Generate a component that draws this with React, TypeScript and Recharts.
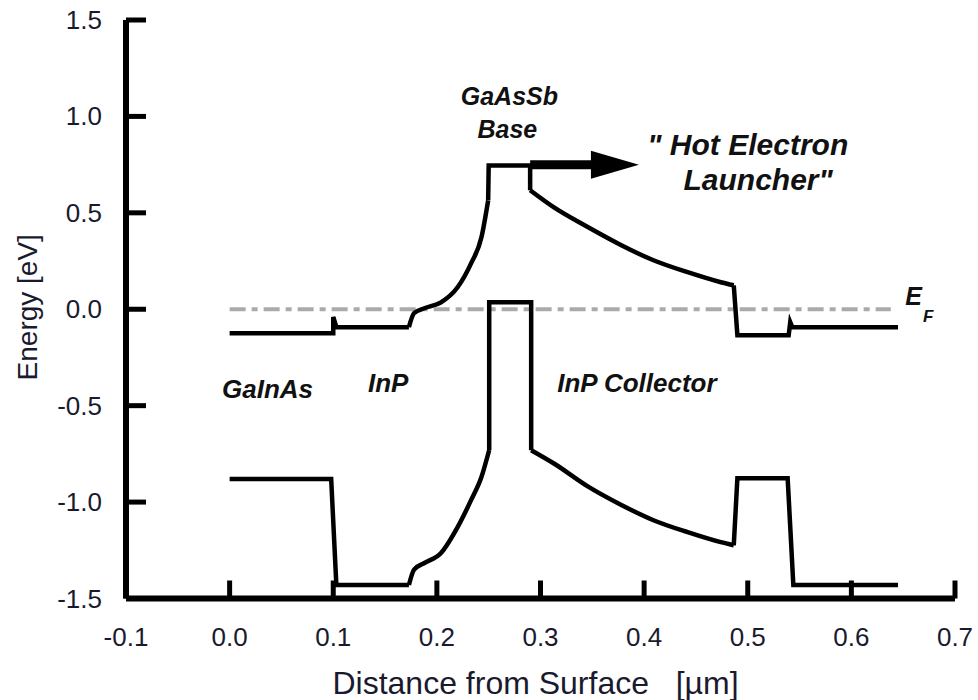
import { ComposedChart, Line, XAxis, YAxis, ReferenceDot } from 'recharts';

// conduction band pieces (x in µm, energy in eV)
const cbLeft = [
  { x: 0, y: -0.125 },
  { x: 0.1, y: -0.125 },
  { x: 0.1, y: -0.04 },
  { x: 0.103, y: -0.093 },
  { x: 0.173, y: -0.093 },
];
const cbRise = [
  { x: 0.173, y: -0.093 },
  { x: 0.178, y: -0.02 },
  { x: 0.188, y: 0.005 },
  { x: 0.204, y: 0.036 },
  { x: 0.22, y: 0.114 },
  { x: 0.233, y: 0.238 },
  { x: 0.243, y: 0.373 },
  { x: 0.2495, y: 0.565 },
];
const cbBase = [
  { x: 0.2495, y: 0.565 },
  { x: 0.25, y: 0.746 },
  { x: 0.29, y: 0.746 },
  { x: 0.29, y: 0.617 },
];
const cbCollector = [
  { x: 0.29, y: 0.617 },
  { x: 0.313, y: 0.528 },
  { x: 0.346, y: 0.425 },
  { x: 0.378, y: 0.332 },
  { x: 0.409, y: 0.254 },
  { x: 0.442, y: 0.192 },
  { x: 0.474, y: 0.14 },
  { x: 0.4865, y: 0.124 },
];
const cbRight = [
  { x: 0.4865, y: 0.124 },
  { x: 0.49, y: -0.135 },
  { x: 0.5395, y: -0.135 },
  { x: 0.541, y: -0.067 },
  { x: 0.543, y: -0.093 },
  { x: 0.645, y: -0.093 },
];

// valence band pieces
const vbLeft = [
  { x: 0, y: -0.88 },
  { x: 0.098, y: -0.88 },
  { x: 0.103, y: -1.43 },
  { x: 0.173, y: -1.43 },
];
const vbRise = [
  { x: 0.173, y: -1.43 },
  { x: 0.178, y: -1.35 },
  { x: 0.188, y: -1.316 },
  { x: 0.204, y: -1.264 },
  { x: 0.22, y: -1.13 },
  { x: 0.233, y: -0.99 },
  { x: 0.243, y: -0.87 },
  { x: 0.2505, y: -0.73 },
];
const vbBase = [
  { x: 0.2505, y: -0.73 },
  { x: 0.2505, y: 0.036 },
  { x: 0.291, y: 0.036 },
  { x: 0.291, y: -0.731 },
];
const vbCollector = [
  { x: 0.291, y: -0.731 },
  { x: 0.313, y: -0.8 },
  { x: 0.346, y: -0.92 },
  { x: 0.378, y: -1.015 },
  { x: 0.409, y: -1.094 },
  { x: 0.442, y: -1.156 },
  { x: 0.474, y: -1.208 },
  { x: 0.4865, y: -1.224 },
];
const vbRight = [
  { x: 0.4865, y: -1.224 },
  { x: 0.49, y: -0.876 },
  { x: 0.5385, y: -0.876 },
  { x: 0.544, y: -1.43 },
  { x: 0.645, y: -1.43 },
];

const fermiLevel = [
  { x: 0, y: 0 },
  { x: 0.638, y: 0 },
];
const arrowShaft = [
  { x: 0.29, y: 0.75 },
  { x: 0.352, y: 0.75 },
];
const arrowTip = { x: 0.395, y: 0.75 };

const xTicks = [-0.1, 0, 0.1, 0.2, 0.3, 0.4, 0.5, 0.6, 0.7];
const yTicks = [-1.5, -1.0, -0.5, 0, 0.5, 1.0, 1.5];

const notes = [
  { text: 'GaInAs', x: 0.0366, y: -0.461, size: 26 },
  { text: 'InP', x: 0.153, y: -0.43, size: 26 },
  { text: 'InP Collector', x: 0.393, y: -0.43, size: 26 },
  { text: 'GaAsSb', x: 0.27, y: 1.057, size: 25 },
  { text: 'Base', x: 0.268, y: 0.886, size: 25 },
  { text: '" Hot Electron', x: 0.5, y: 0.8, size: 30 },
  { text: 'Launcher"', x: 0.51, y: 0.617, size: 30 },
];

const FONT = '"Liberation Sans", Arial, sans-serif';

const bandSegments = [
  { id: 'cbLeft', data: cbLeft, curve: 'linear' },
  { id: 'cbRise', data: cbRise, curve: 'monotone' },
  { id: 'cbBase', data: cbBase, curve: 'linear' },
  { id: 'cbCollector', data: cbCollector, curve: 'monotone' },
  { id: 'cbRight', data: cbRight, curve: 'linear' },
  { id: 'vbLeft', data: vbLeft, curve: 'linear' },
  { id: 'vbRise', data: vbRise, curve: 'monotone' },
  { id: 'vbBase', data: vbBase, curve: 'linear' },
  { id: 'vbCollector', data: vbCollector, curve: 'monotone' },
  { id: 'vbRight', data: vbRight, curve: 'linear' },
] as const;

function XTick({ x, y, payload }: any) {
  return (
    <g>
      <line x1={x} y1={y} x2={x} y2={y - 18} stroke="#000" strokeWidth={5} />
      <text x={x} y={y + 38} textAnchor="middle" dominantBaseline="central" fontSize={26} fill="#1a1a2e" fontFamily={FONT}>
        {Number(payload.value).toFixed(1)}
      </text>
    </g>
  );
}

function YTick({ x, y, payload }: any) {
  return (
    <g>
      <line x1={x} y1={y} x2={x + 20} y2={y} stroke="#000" strokeWidth={5} />
      <text x={x - 24} y={y} textAnchor="end" dominantBaseline="central" fontSize={26} fill="#1a1a2e" fontFamily={FONT}>
        {Number(payload.value).toFixed(1)}
      </text>
    </g>
  );
}

export default function App() {
  return (
    <div style={{ position: 'absolute', left: 0, top: 0, background: '#fff' }}>
      <ComposedChart width={978} height={700} margin={{ top: 20, right: 23, bottom: 71.5, left: 66 }}>
        <XAxis
          dataKey="x"
          type="number"
          domain={[-0.1, 0.7]}
          ticks={xTicks}
          height={30}
          tickSize={0}
          tickMargin={0}
          tickLine={false}
          axisLine={{ stroke: '#000', strokeWidth: 6 }}
          tick={<XTick />}
          interval={0}
          label={{
            content: ({ viewBox }: any) => (
              <text
                x={viewBox.x + viewBox.width / 2 - 5}
                y={viewBox.y + 84}
                textAnchor="middle"
                dominantBaseline="central"
                fontSize={32}
                fill="#1a1a2e"
                fontFamily={FONT}
              >
                Distance from Surface{'\u00a0\u00a0\u00a0'}[µm]
              </text>
            ),
          }}
        />
        <YAxis
          dataKey="y"
          type="number"
          domain={[-1.5, 1.5]}
          ticks={yTicks}
          width={60}
          tickSize={0}
          tickMargin={0}
          tickLine={false}
          axisLine={{ stroke: '#000', strokeWidth: 6 }}
          tick={<YTick />}
          interval={0}
          label={{
            content: ({ viewBox }: any) => {
              const cx = viewBox.x + viewBox.width - 99;
              const cy = viewBox.y + viewBox.height / 2 - 2;
              return (
                <text
                  x={cx}
                  y={cy}
                  transform={`rotate(-90 ${cx} ${cy})`}
                  textAnchor="middle"
                  dominantBaseline="central"
                  fontSize={28}
                  fill="#1a1a2e"
                  fontFamily={FONT}
                >
                  Energy [eV]
                </text>
              );
            },
          }}
        />

        <Line
          data={fermiLevel}
          dataKey="y"
          type="linear"
          stroke="#aaaaaa"
          strokeWidth={4}
          strokeDasharray="16 6 6 6"
          dot={false}
          activeDot={false}
          isAnimationActive={false}
        />

        {bandSegments.map((s) => (
          <Line
            key={s.id}
            data={s.data as any}
            dataKey="y"
            type={s.curve}
            stroke="#000"
            strokeWidth={4.5}
            strokeLinejoin="miter"
            dot={false}
            activeDot={false}
            isAnimationActive={false}
          />
        ))}

        <Line
          data={arrowShaft}
          dataKey="y"
          type="linear"
          stroke="#000"
          strokeWidth={9}
          dot={false}
          activeDot={false}
          isAnimationActive={false}
        />
        <ReferenceDot
          x={arrowTip.x}
          y={arrowTip.y}
          r={0}
          shape={({ cx, cy }: any) => (
            <path d={`M${cx},${cy} L${cx - 48},${cy - 14} L${cx - 48},${cy + 14} Z`} fill="#000" />
          )}
        />

        {notes.map((n) => (
          <ReferenceDot
            key={n.text}
            x={n.x}
            y={n.y}
            r={0}
            shape={({ cx, cy }: any) => (
              <text
                x={cx}
                y={cy}
                textAnchor="middle"
                fontSize={n.size}
                fontWeight="bold"
                fontStyle="italic"
                fill="#111"
                fontFamily={FONT}
              >
                {n.text}
              </text>
            )}
          />
        ))}

        <ReferenceDot
          x={0.652}
          y={0.02}
          r={0}
          shape={({ cx, cy }: any) => (
            <text x={cx} y={cy} fontWeight="bold" fontStyle="italic" fill="#111" fontFamily={FONT} fontSize={25}>
              E
              <tspan dx={1} dy={17} fontSize={17}>
                F
              </tspan>
            </text>
          )}
        />
      </ComposedChart>
    </div>
  );
}
